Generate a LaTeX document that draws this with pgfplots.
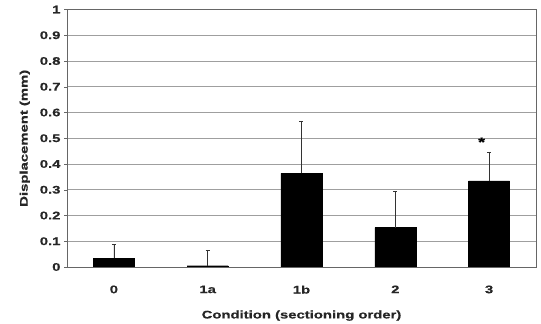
\documentclass[border=0pt]{standalone}
\usepackage{pgfplots}
\pgfplotsset{compat=1.18}
\usepackage{fontspec}
\setmainfont{Liberation Sans}[FakeStretch=1.35, BoldFeatures={FakeBold=0.6}]
\begin{document}
\begin{tikzpicture}
\useasboundingbox (0,0) rectangle (541pt,324pt);
\begin{axis}[
  at={(67pt,57pt)}, anchor=south west,
  scale only axis, width=469pt, height=257.5pt,
  xmin=-0.5, xmax=4.5, ymin=0, ymax=1,
  ytick={0,0.1,...,1.0},
  yticklabels={0,0.1,0.2,0.3,0.4,0.5,0.6,0.7,0.8,0.9,1},
  xtick={0,1,2,3,4},
  xticklabels={0,1a,1b,2,3},
  major x tick style={draw=none},
  extra x ticks={0.5,1.5,2.5,3.5},
  extra x tick labels={},
  extra x tick style={grid=none, major tick length=3pt, tick style={draw=gray!70}},
  tick align=outside, tick pos=left,
  major tick length=3pt,
  ymajorgrids, grid style={gray!75, line width=0.8pt},
  axis line style={gray!80!black, line width=0.8pt},
  tick style={gray!80!black},
  ticklabel style={font=\fontsize{11}{13}\selectfont\bfseries, text=black!85},
  /pgf/number format/assume math mode=true,
  xticklabel style={yshift=-12pt},
  ylabel={Displacement (mm)},
  xlabel={Condition (sectioning order)},
  label style={font=\fontsize{11}{13}\selectfont\bfseries, text=black!85},
  ylabel style={yshift=3pt},
  xlabel style={yshift=-4pt},
]
\addplot[ybar, bar width=41pt, fill=black, draw=black,
  error bars/.cd, y dir=plus, y explicit,
  error bar style={line width=0.8pt, black!80},
  error mark options={rotate=90, mark size=2pt, line width=0.8pt}]
  coordinates {
  (0,0.034) +- (0,0.055)
  (1,0.005) +- (0,0.061)
  (2,0.364) +- (0,0.203)
  (3,0.153) +- (0,0.139)
  (4,0.334) +- (0,0.110)
  };
\node[font=\bfseries\fontsize{13}{13}\selectfont] at (axis cs:3.92,0.485) {*};
\end{axis}
\end{tikzpicture}
\end{document}
